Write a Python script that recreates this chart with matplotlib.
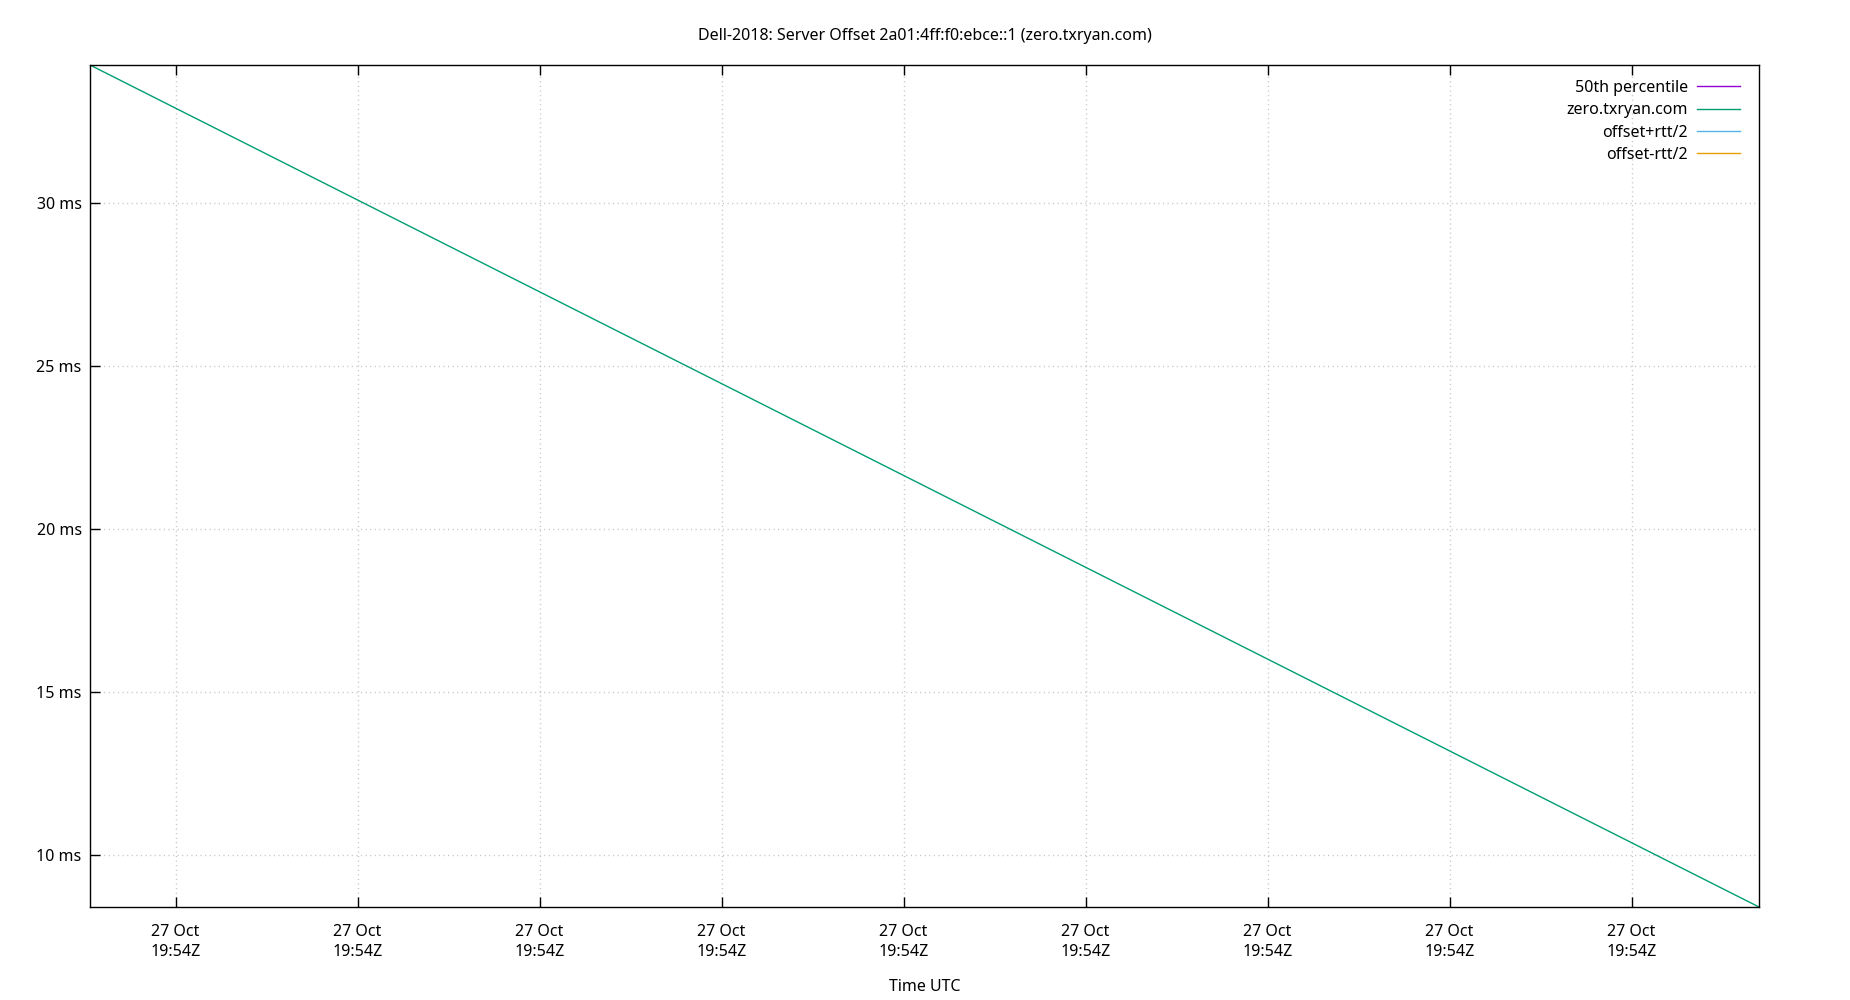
import pandas as pd
import matplotlib
matplotlib.use('Agg')
import matplotlib.pyplot as plt
import matplotlib.dates as mdates

plt.rcParams['font.family'] = ['Noto Sans', 'DejaVu Sans']

# Data: a single server series, two samples
title = 'Dell-2018: Server Offset 2a01:4ff:f0:ebce::1 (zero.txryan.com)'
times = pd.to_datetime(['2018-10-27 19:54:02.65', '2018-10-27 19:54:48.50'])
offset_ms = [34.23, 8.40]

legend_labels = ['50th percentile', 'zero.txryan.com', 'offset+rtt/2', 'offset-rtt/2']
legend_colors = ['#9400d3', '#009e73', '#56b4e9', '#e69f00']

fig = plt.figure(figsize=(18.5, 10), dpi=100)
ax = fig.add_axes([90 / 1850, 1 - 907 / 1000, 1669 / 1850, 842 / 1000])

# empty series just so they show up in the key
ax.plot([], [], color=legend_colors[0], lw=1, label=legend_labels[0])
ax.plot(times, offset_ms, color=legend_colors[1], lw=1, label=legend_labels[1])
ax.plot([], [], color=legend_colors[2], lw=1, label=legend_labels[2])
ax.plot([], [], color=legend_colors[3], lw=1, label=legend_labels[3])

ax.set_xlim(times[0], times[-1])
ax.set_ylim(min(offset_ms), max(offset_ms))

ax.xaxis.set_major_locator(mdates.SecondLocator(bysecond=range(5, 60, 5)))
ax.xaxis.set_major_formatter(mdates.DateFormatter('%d %b\n%H:%MZ'))
ax.set_yticks([10, 15, 20, 25, 30])
ax.set_yticklabels([f'{v} ms' for v in [10, 15, 20, 25, 30]])

for lbl in ax.get_xticklabels():
    lbl.set_linespacing(1.35)

ax.tick_params(direction='in', length=7, width=1, top=True, right=False,
               labelsize=11.5, pad=6, colors='black')
ax.tick_params(axis='x', pad=12)
ax.grid(True, color='#c4c4c4', linestyle=(0, (0.8, 2.5)), linewidth=1)
for s in ax.spines.values():
    s.set_linewidth(1)

ax.set_xlabel('Time UTC', fontsize=11.5, labelpad=14)
fig.text(0.5, 1 - 35.5 / 1000, title, ha='center', va='center', fontsize=11.5)

ax.legend(loc='upper right', frameon=False, markerfirst=False, fontsize=11.5,
          handlelength=2.7, handletextpad=0.55, labelspacing=0.4,
          borderaxespad=0.5, bbox_to_anchor=(0.9972, 0.9995))

plt.savefig('out.png')
